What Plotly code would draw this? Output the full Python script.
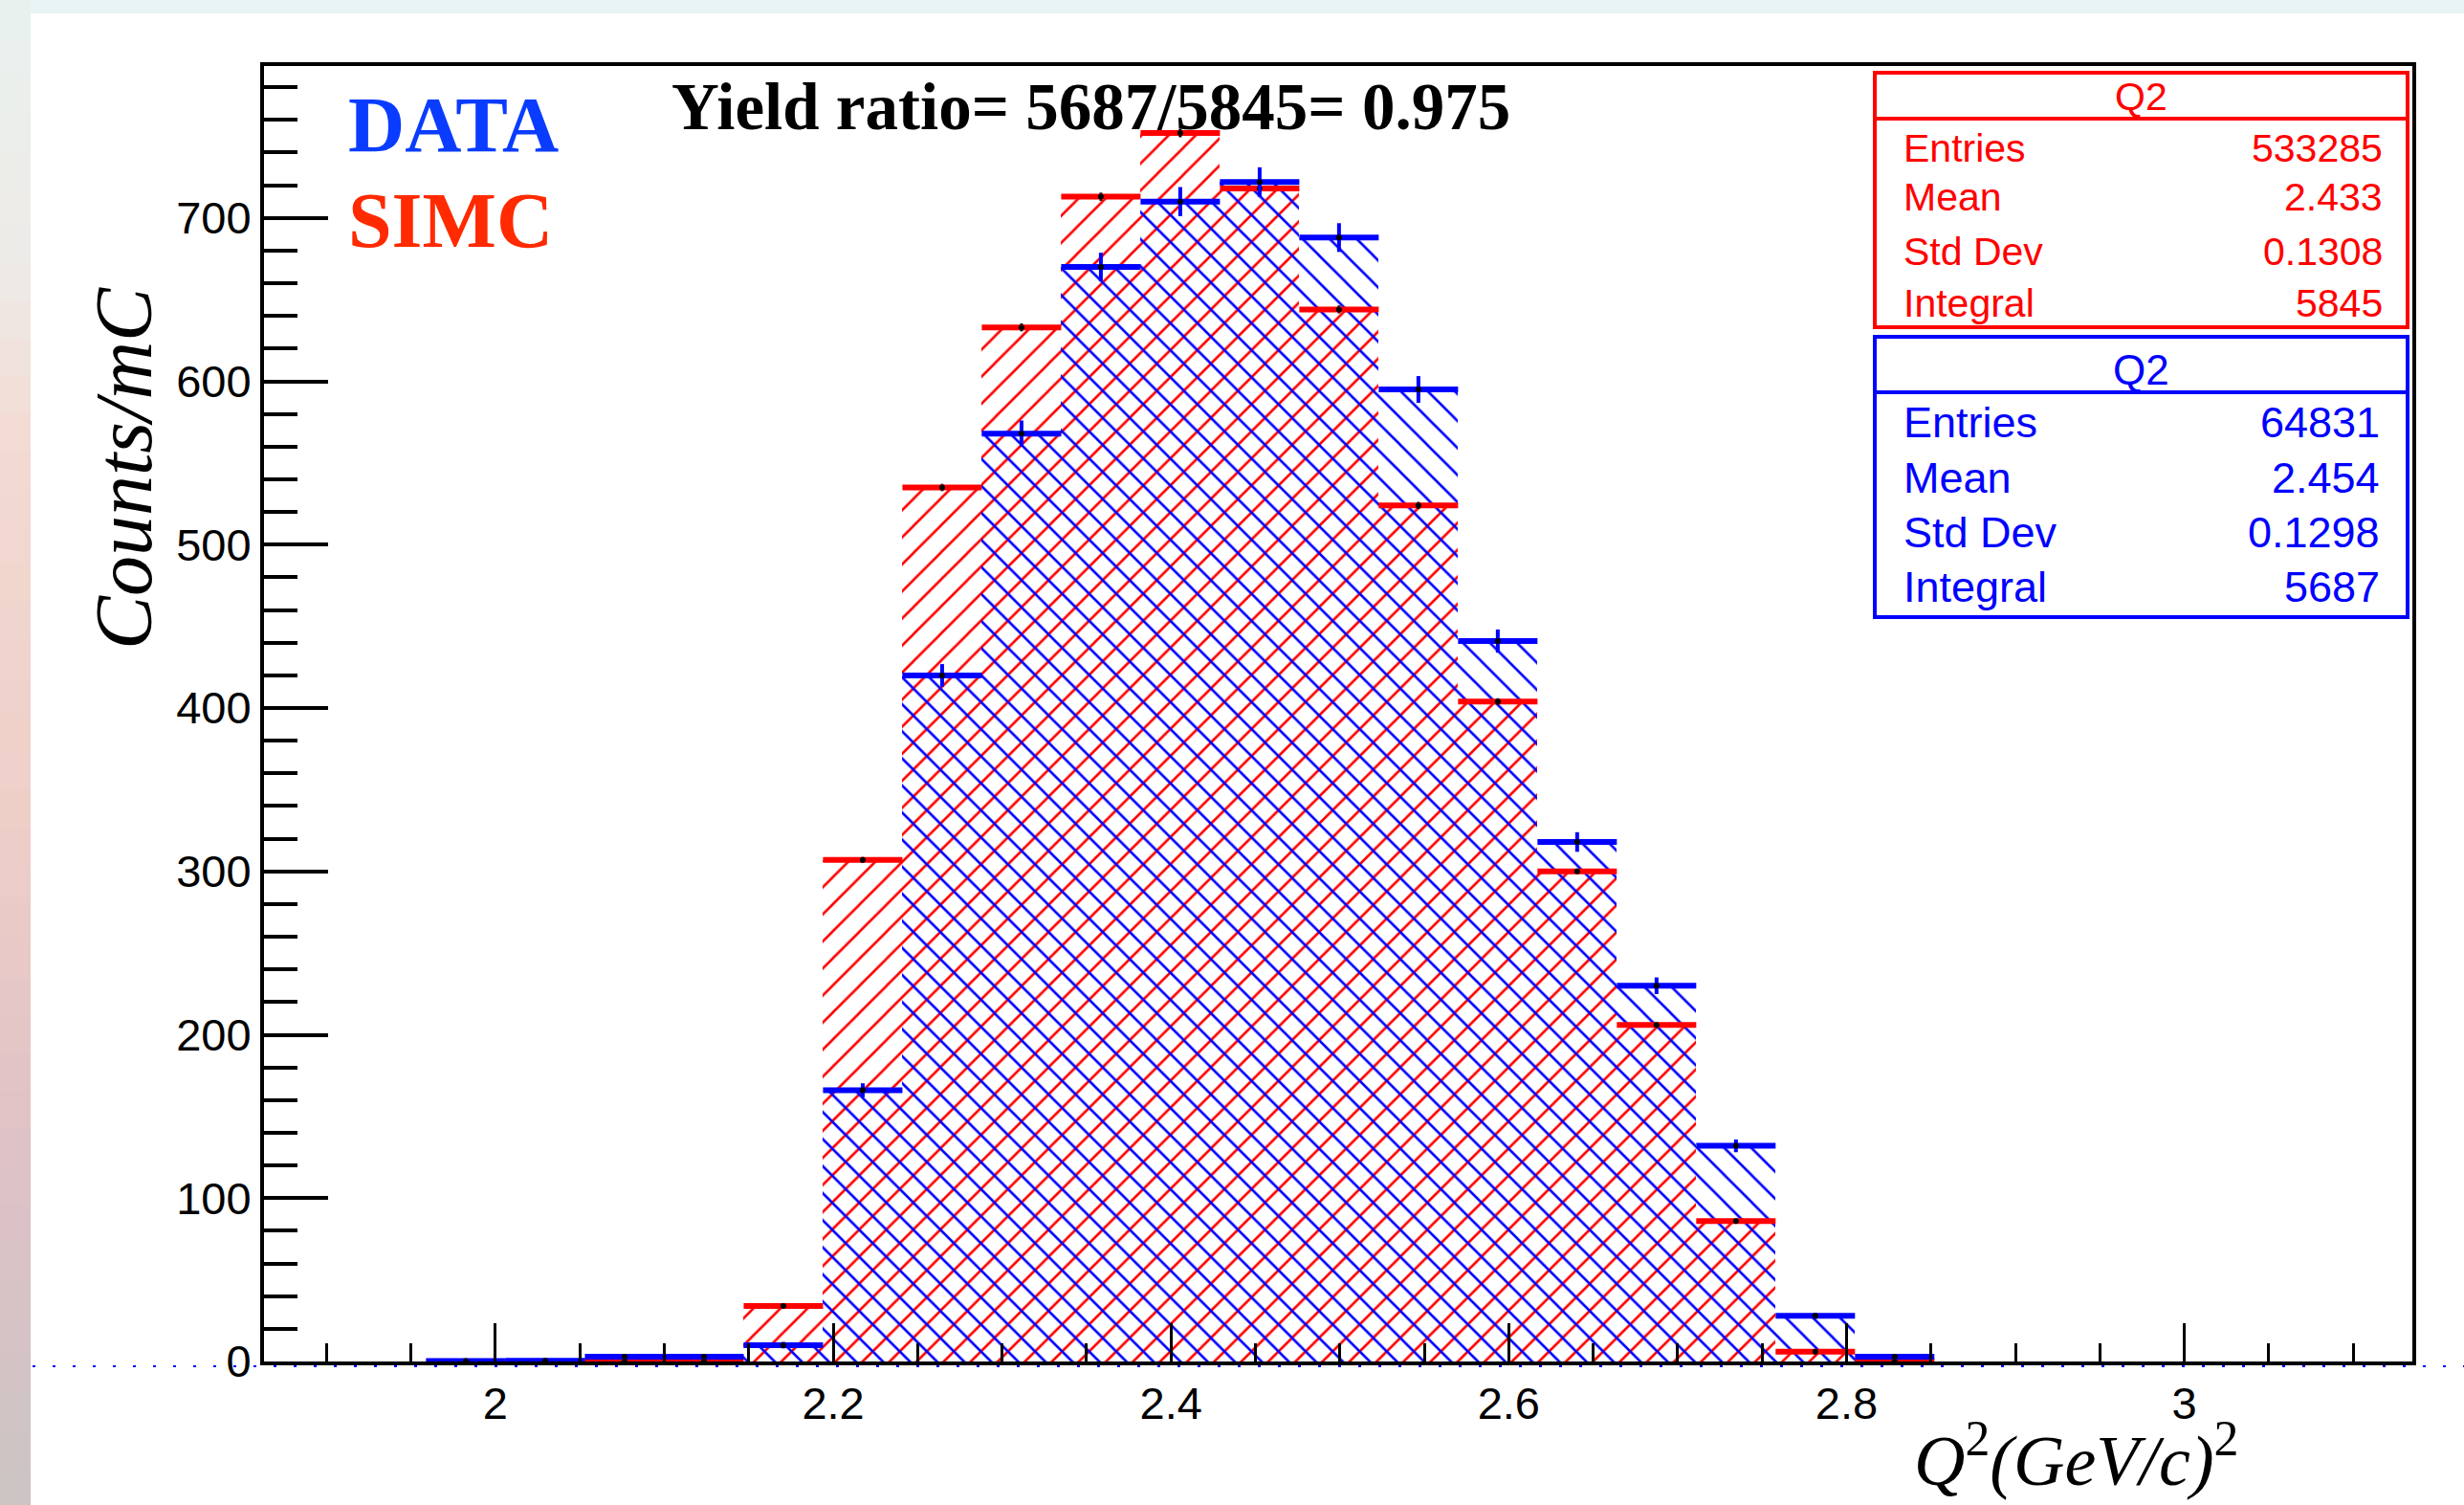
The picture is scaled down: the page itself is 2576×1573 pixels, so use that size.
import plotly.graph_objects as go

# ---------------- data ----------------
bin_edges = [1.959, 2.006, 2.053, 2.100, 2.147, 2.194, 2.241, 2.288, 2.335, 2.382,
             2.429, 2.476, 2.523, 2.570, 2.617, 2.664, 2.711, 2.758, 2.805, 2.852]
simc_counts = [0, 0, 0.3, 0.8, 34, 307, 535, 633, 713, 752,
               718, 644, 524, 404, 300, 206, 86, 6, 0.4]
simc_err = [0, 0, 0.2, 0.3, 1.0, 1.8, 2.2, 2.4, 2.5, 2.6,
            2.5, 2.4, 2.2, 2.0, 1.7, 1.4, 0.9, 0.3, 0.1]
data_counts = [0.3, 0.4, 3, 3, 10, 166, 420, 568, 670, 710,
               722, 688, 595, 441, 318, 230, 132, 28, 3]
data_err = [0.4, 0.5, 1.2, 1.2, 2.0, 4.3, 6.9, 8.0, 8.7, 8.9,
            9.0, 8.8, 8.2, 7.1, 6.0, 5.1, 3.9, 1.8, 0.6]

x_ticks = [2.0, 2.2, 2.4, 2.6, 2.8, 3.0]
x_tick_labels = ["2", "2.2", "2.4", "2.6", "2.8", "3"]
y_ticks = [0, 100, 200, 300, 400, 500, 600, 700]

simc_stats = [("Entries", "533285"), ("Mean", "2.433"), ("Std Dev", "0.1308"), ("Integral", "5845")]
data_stats = [("Entries", "64831"), ("Mean", "2.454"), ("Std Dev", "0.1298"), ("Integral", "5687")]
stats_title = "Q2"
ratio_text = "Yield ratio= 5687/5845= 0.975"

centers = [(a + b) / 2 for a, b in zip(bin_edges[:-1], bin_edges[1:])]
widths = [b - a for a, b in zip(bin_edges[:-1], bin_edges[1:])]
half_w = [w / 2 for w in widths]

# ---------------- geometry ----------------
W, H = 2576, 1573
PL, PR, PT, PB = 276, 2522, 69, 1423
PW, PH = PR - PL, PB - PT


def fx(x):
    return (x - PL) / PW


def fy(y):
    return (PB - y) / PH


RED = "#ff0000"
BLUE = "#0000ff"

fig = go.Figure()

# hatched histograms
fig.add_trace(go.Bar(
    x=centers, y=simc_counts, width=widths,
    marker=dict(color=RED, line=dict(width=0),
                pattern=dict(shape="/", size=20, solidity=0.13, fgcolor=RED, fillmode="replace")),
    showlegend=False, hoverinfo="skip"))
fig.add_trace(go.Bar(
    x=centers, y=data_counts, width=widths,
    marker=dict(color=BLUE, line=dict(width=0),
                pattern=dict(shape="\\", size=20, solidity=0.13, fgcolor=BLUE, fillmode="replace")),
    showlegend=False, hoverinfo="skip"))

# bin tops + error bars
fig.add_trace(go.Scatter(
    x=centers, y=simc_counts, mode="markers",
    marker=dict(color="black", size=6),
    error_x=dict(type="data", array=half_w, symmetric=True, width=0, thickness=6, color=RED),
    error_y=dict(type="data", array=simc_err, symmetric=True, width=0, thickness=3, color="black"),
    showlegend=False, hoverinfo="skip"))
fig.add_trace(go.Scatter(
    x=centers, y=data_counts, mode="markers",
    marker=dict(color="black", size=6),
    error_x=dict(type="data", array=half_w, symmetric=True, width=0, thickness=6, color=BLUE),
    error_y=dict(type="data", array=data_err, symmetric=True, width=0, thickness=4, color=BLUE),
    showlegend=False, hoverinfo="skip"))

shapes = []
# page background strips (screenshot edges) - smooth vertical gradient
key_colors = [(0.0, (232, 242, 239)), (0.18, (238, 234, 230)), (0.3, (242, 218, 210)),
              (0.55, (238, 206, 200)), (0.75, (224, 194, 198)), (1.0, (204, 196, 196))]


def grad(t):
    for (t0, c0), (t1, c1) in zip(key_colors[:-1], key_colors[1:]):
        if t0 <= t <= t1:
            f = (t - t0) / (t1 - t0)
            return "rgb(%d,%d,%d)" % tuple(round(a + (b - a) * f) for a, b in zip(c0, c1))
    return "rgb(%d,%d,%d)" % key_colors[-1][1]


nb = 40
for i in range(nb):
    y0 = i * H / nb
    y1 = (i + 1) * H / nb + 1
    shapes.append(dict(type="rect", xref="paper", yref="paper", x0=fx(0), x1=fx(32),
                       y0=fy(y1), y1=fy(y0), fillcolor=grad((i + 0.5) / nb), line=dict(width=0), layer="below"))
shapes.append(dict(type="rect", xref="paper", yref="paper", x0=fx(32), x1=fx(W),
                   y0=fy(14), y1=fy(0), fillcolor="#e9f5f4", line=dict(width=0), layer="below"))

# dotted blue hatch residue along zero
shapes.append(dict(type="line", xref="paper", yref="paper", x0=fx(34), x1=fx(W),
                   y0=fy(1428), y1=fy(1428), line=dict(color=BLUE, width=2, dash="3px,18px")))

# stats boxes
shapes.append(dict(type="rect", xref="paper", yref="paper", x0=fx(1960), x1=fx(2517),
                   y0=fy(342), y1=fy(76), fillcolor="white", line=dict(color=RED, width=4)))
shapes.append(dict(type="line", xref="paper", yref="paper", x0=fx(1960), x1=fx(2517),
                   y0=fy(124), y1=fy(124), line=dict(color=RED, width=4)))
shapes.append(dict(type="rect", xref="paper", yref="paper", x0=fx(1960), x1=fx(2517),
                   y0=fy(645), y1=fy(352), fillcolor="white", line=dict(color=BLUE, width=4)))
shapes.append(dict(type="line", xref="paper", yref="paper", x0=fx(1960), x1=fx(2517),
                   y0=fy(410), y1=fy(410), line=dict(color=BLUE, width=4)))

ann = []


def txt(text, x, y, size, color="black", family="Liberation Sans", xanchor="left", yanchor="middle", angle=0):
    ann.append(dict(text=text, x=fx(x), y=fy(y), xref="paper", yref="paper", showarrow=False,
                    xanchor=xanchor, yanchor=yanchor, textangle=angle,
                    font=dict(size=size, color=color, family=family)))


txt(stats_title, 2238, 101, 41, RED, xanchor="center")
for (lab, val), yy in zip(simc_stats, [155, 206, 263, 317]):
    txt(lab, 1988, yy, 41, RED)
    txt(val, 2493, yy, 41, RED, xanchor="right")
txt(stats_title, 2238, 386, 44, BLUE, xanchor="center")
for (lab, val), yy in zip(data_stats, [441, 499, 556, 613]):
    txt(lab, 1988, yy, 45, BLUE)
    txt(val, 2490, yy, 45, BLUE, xanchor="right")

txt("<b>DATA</b>", 362, 130, 82, "#0a3cff", family="Liberation Serif")
txt("<b>SIMC</b>", 362, 230, 82, "#ff2a00", family="Liberation Serif")
txt("<b>" + ratio_text + "</b>", 700, 112, 69, "black", family="Liberation Serif")

txt("<i>Counts/mC</i>", 129, 490, 84, "black", family="Liberation Serif", xanchor="center", angle=-90)
txt("<i>Q</i><sup>2</sup><i>(GeV/c)</i><sup>2</sup>", 2342, 1522, 74, "black",
    family="Liberation Serif", xanchor="right")

fig.update_layout(
    width=W, height=H,
    margin=dict(l=PL, r=W - PR, t=PT, b=H - PB),
    paper_bgcolor="white", plot_bgcolor="white",
    barmode="overlay", bargap=0,
    shapes=shapes, annotations=ann,
    showlegend=False,
)
fig.update_xaxes(
    range=[1.863, 3.135], tickvals=x_ticks, ticktext=x_tick_labels,
    ticks="inside", ticklen=40, tickwidth=3, tickcolor="black",
    minor=dict(dtick=0.05, tick0=2.0, ticks="inside", ticklen=19, tickwidth=3, tickcolor="black", showgrid=False),
    showline=True, linecolor="black", linewidth=4, mirror=True,
    showgrid=False, zeroline=False,
    tickfont=dict(family="Liberation Sans", size=47, color="black"),
)
fig.update_yaxes(
    range=[0, 793], tickvals=y_ticks,
    ticks="inside", ticklen=67, tickwidth=4, tickcolor="black",
    minor=dict(dtick=20, tick0=0, ticks="inside", ticklen=35, tickwidth=4, tickcolor="black", showgrid=False),
    showline=True, linecolor="black", linewidth=4, mirror=True,
    showgrid=False, zeroline=False,
    tickfont=dict(family="Liberation Sans", size=47, color="black"),
)

fig.write_html("out.html")
